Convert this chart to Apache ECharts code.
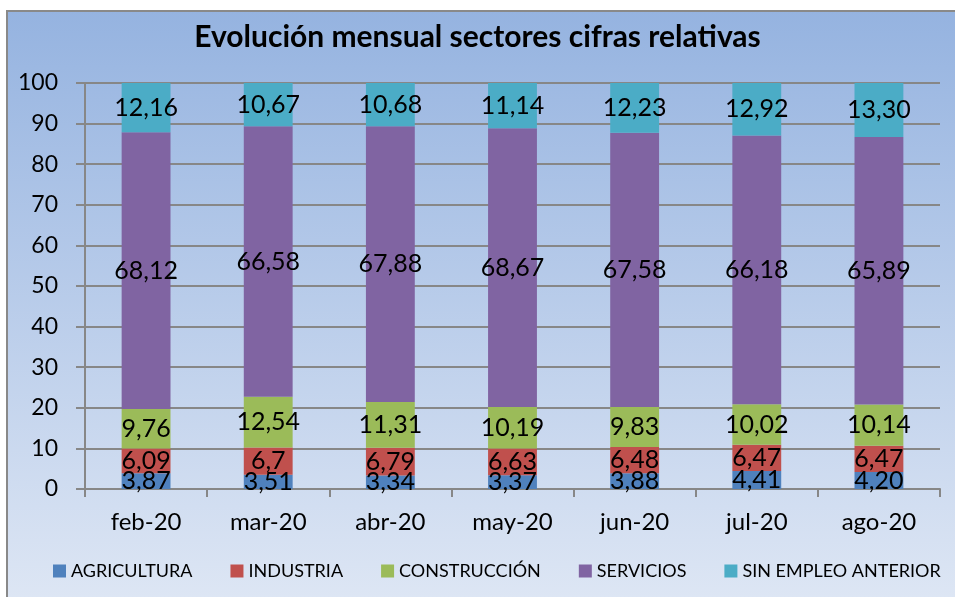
<!DOCTYPE html>
<html>
<head>
<meta charset="utf-8">
<script src="https://cdn.jsdelivr.net/npm/echarts@6/dist/echarts.min.js"></script>
<style>
  html, body { margin: 0; padding: 0; background: #fff; }
  #chart { width: 955px; height: 597px; }
</style>
</head>
<body>
<div id="chart"></div>
<script>
const months = ['feb-20', 'mar-20', 'abr-20', 'may-20', 'jun-20', 'jul-20', 'ago-20']
const yTicks = [0, 100, 10]

const agricultura = [3.87, 3.51, 3.34, 3.37, 3.88, 4.41, 4.20]
const industria = [6.09, 6.7, 6.79, 6.63, 6.48, 6.47, 6.47]
const construccion = [9.76, 12.54, 11.31, 10.19, 9.83, 10.02, 10.14]
const servicios = [68.12, 66.58, 67.88, 68.67, 67.58, 66.18, 65.89]
const sinEmpleo = [12.16, 10.67, 10.68, 11.14, 12.23, 12.92, 13.30]

// texts as printed on the bars
const agriculturaText = ['3,87', '3,51', '3,34', '3,37', '3,88', '4,41', '4,20']
const industriaText = ['6,09', '6,7', '6,79', '6,63', '6,48', '6,47', '6,47']
const construccionText = ['9,76', '12,54', '11,31', '10,19', '9,83', '10,02', '10,14']
const serviciosText = ['68,12', '66,58', '67,88', '68,67', '67,58', '66,18', '65,89']
const sinEmpleoText = ['12,16', '10,67', '10,68', '11,14', '12,23', '12,92', '13,30']

const font = 'Lato, "Open Sans", sans-serif'

const makeSeries = (name, data, texts, color) => ({
  name,
  type: 'bar',
  stack: 'total',
  barWidth: '40%',
  data,
  itemStyle: { color },
  label: {
    show: true,
    position: 'inside',
    color: '#000',
    fontFamily: font,
    fontSize: 25,
    formatter: (p) => texts[p.dataIndex]
  }
})

const chart = echarts.init(document.getElementById('chart'))

chart.setOption({
  animation: false,
  graphic: [{
    type: 'rect',
    z: -10,
    shape: { x: 7, y: 11, width: 970, height: 610 },
    style: {
      fill: new echarts.graphic.LinearGradient(0, 0, 0, 1, [
        { offset: 0, color: '#95b3e0' },
        { offset: 1, color: '#e0e8f5' }
      ]),
      stroke: '#898989',
      lineWidth: 2
    }
  }],
  title: {
    text: 'Evolución mensual sectores cifras relativas',
    left: 'center',
    top: 17,
    textStyle: {
      fontFamily: font,
      fontSize: 30,
      fontWeight: 'bold',
      color: '#000'
    }
  },
  legend: {
    bottom: 12,
    left: 48,
    itemWidth: 13,
    itemHeight: 13,
    itemGap: 38,
    icon: 'rect',
    textStyle: { fontFamily: font, fontSize: 18, color: '#000' },
    data: ['AGRICULTURA', 'INDUSTRIA', 'CONSTRUCCIÓN', 'SERVICIOS', 'SIN EMPLEO ANTERIOR']
  },
  grid: {
    left: 85,
    right: 15,
    top: 83,
    height: 406
  },
  xAxis: {
    type: 'category',
    data: months,
    axisLine: { lineStyle: { color: '#878787', width: 2 } },
    axisTick: { show: true, length: 8, lineStyle: { color: '#878787', width: 2 } },
    axisLabel: { fontFamily: font, fontSize: 24, color: '#000', margin: 21 }
  },
  yAxis: {
    type: 'value',
    min: yTicks[0],
    max: yTicks[1],
    interval: yTicks[2],
    axisLine: { show: true, lineStyle: { color: '#878787', width: 2 } },
    axisTick: { show: true, length: 9, lineStyle: { color: '#878787', width: 2 } },
    axisLabel: { fontFamily: font, fontSize: 23, color: '#000', margin: 27 },
    splitLine: { lineStyle: { color: '#878787', width: 2 } }
  },
  series: [
    makeSeries('AGRICULTURA', agricultura, agriculturaText, '#4f81bd'),
    makeSeries('INDUSTRIA', industria, industriaText, '#c0504d'),
    makeSeries('CONSTRUCCIÓN', construccion, construccionText, '#9bbb59'),
    makeSeries('SERVICIOS', servicios, serviciosText, '#8064a2'),
    makeSeries('SIN EMPLEO ANTERIOR', sinEmpleo, sinEmpleoText, '#4bacc6')
  ]
})
</script>
</body>
</html>
